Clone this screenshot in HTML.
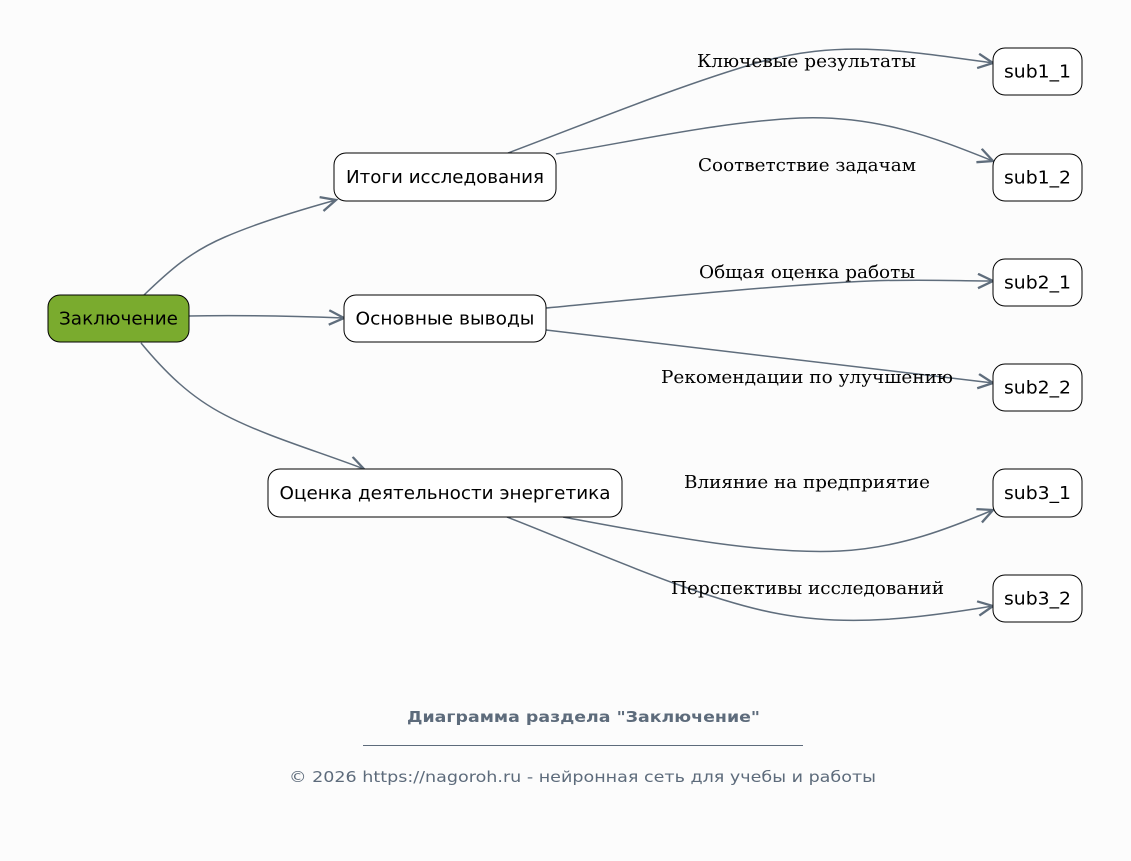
<!DOCTYPE html>
<html>
<head>
<meta charset="utf-8">
<style>
  html, body { margin: 0; padding: 0; background: #fcfcfc; }
  svg { display: block; }
  .node { fill: #ffffff; stroke: #000; stroke-width: 1; }
  .nt { font-family: "DejaVu Sans", "Liberation Sans", sans-serif; font-size: 18px; fill: #000; text-anchor: middle; }
  .lbl { font-family: "DejaVu Serif", "Liberation Serif", serif; font-size: 18px; fill: #000; text-anchor: middle; }
  .edge { fill: none; stroke: #5f6d7c; stroke-width: 1.5; }
</style>
</head>
<body>
<svg width="1131" height="861" viewBox="0 0 1131 861" xmlns="http://www.w3.org/2000/svg">
  <defs>
    <marker id="ah" markerUnits="userSpaceOnUse" markerWidth="20" markerHeight="18" refX="16" refY="8" orient="auto" viewBox="0 0 20 18">
      <path d="M1,0.8 L16,8 L1,15.2" fill="none" stroke="#5f6d7c" stroke-width="2.3" stroke-linejoin="miter"/>
    </marker>
  </defs>
  <rect width="1131" height="861" fill="#fcfcfc"/>

  <!-- edges -->
  <path class="edge" marker-end="url(#ah)" d="M144,295 C170,270 190,252 225,237 C255,224 300,210 336,200"/>
  <path class="edge" marker-end="url(#ah)" d="M189,316 C240,315 290,316 344,318"/>
  <path class="edge" marker-end="url(#ah)" d="M141,343 C165,372 190,397 225,415 C265,436 320,452 364,469"/>

  <path class="edge" marker-end="url(#ah)" d="M508,153 C580,126 680,85 760,62 C840,40 900,50 993,63"/>
  <path class="edge" marker-end="url(#ah)" d="M556,154 C640,140 720,122 800,118 C880,115 940,140 993,161"/>
  <path class="edge" marker-end="url(#ah)" d="M546,308 C650,298 780,285 870,281 C920,279 960,281 993,281"/>
  <path class="edge" marker-end="url(#ah)" d="M546,330 C700,347 850,365 993,383"/>
  <path class="edge" marker-end="url(#ah)" d="M563,517 C650,533 760,555 840,551 C900,548 950,528 993,510"/>
  <path class="edge" marker-end="url(#ah)" d="M507,517 C580,545 700,600 780,614 C850,627 920,618 993,606"/>

  <!-- nodes -->
  <rect x="48" y="295" width="141" height="47" rx="12" ry="12" fill="#7aab2e" stroke="#000" stroke-width="1"/>
  <text class="nt" x="118.5" y="324.5" textLength="119" lengthAdjust="spacingAndGlyphs">Заключение</text>

  <rect class="node" x="334" y="153" width="222" height="48" rx="12" ry="12"/>
  <text class="nt" x="445" y="183" textLength="198" lengthAdjust="spacingAndGlyphs">Итоги исследования</text>

  <rect class="node" x="344" y="295" width="202" height="47" rx="12" ry="12"/>
  <text class="nt" x="445" y="324.5" textLength="179" lengthAdjust="spacingAndGlyphs">Основные выводы</text>

  <rect class="node" x="268" y="469" width="354" height="48" rx="12" ry="12"/>
  <text class="nt" x="445" y="499" textLength="331" lengthAdjust="spacingAndGlyphs">Оценка деятельности энергетика</text>

  <rect class="node" x="993" y="48" width="89" height="47" rx="12" ry="12"/>
  <text class="nt" x="1037.5" y="77.5" textLength="67" lengthAdjust="spacingAndGlyphs">sub1_1</text>
  <rect class="node" x="993" y="154" width="89" height="47" rx="12" ry="12"/>
  <text class="nt" x="1037.5" y="183.5" textLength="67" lengthAdjust="spacingAndGlyphs">sub1_2</text>
  <rect class="node" x="993" y="259" width="89" height="47" rx="12" ry="12"/>
  <text class="nt" x="1037.5" y="288.5" textLength="67" lengthAdjust="spacingAndGlyphs">sub2_1</text>
  <rect class="node" x="993" y="364" width="89" height="47" rx="12" ry="12"/>
  <text class="nt" x="1037.5" y="393.5" textLength="67" lengthAdjust="spacingAndGlyphs">sub2_2</text>
  <rect class="node" x="993" y="469" width="89" height="48" rx="12" ry="12"/>
  <text class="nt" x="1037.5" y="499" textLength="67" lengthAdjust="spacingAndGlyphs">sub3_1</text>
  <rect class="node" x="993" y="575" width="89" height="47" rx="12" ry="12"/>
  <text class="nt" x="1037.5" y="604.5" textLength="67" lengthAdjust="spacingAndGlyphs">sub3_2</text>

  <!-- edge labels -->
  <text class="lbl" x="806.5" y="67" textLength="219" lengthAdjust="spacingAndGlyphs">Ключевые результаты</text>
  <text class="lbl" x="807" y="171" textLength="218" lengthAdjust="spacingAndGlyphs">Соответствие задачам</text>
  <text class="lbl" x="807" y="278" textLength="216" lengthAdjust="spacingAndGlyphs">Общая оценка работы</text>
  <text class="lbl" x="807" y="383" textLength="292" lengthAdjust="spacingAndGlyphs">Рекомендации по улучшению</text>
  <text class="lbl" x="807" y="488" textLength="246" lengthAdjust="spacingAndGlyphs">Влияние на предприятие</text>
  <text class="lbl" x="807.5" y="594" textLength="273" lengthAdjust="spacingAndGlyphs">Перспективы исследований</text>

  <!-- footer -->
  <text x="583.5" y="722" text-anchor="middle" font-family="'DejaVu Sans', 'Liberation Sans', sans-serif" font-size="15" font-weight="bold" fill="#5d6b7b" textLength="353" lengthAdjust="spacingAndGlyphs">Диаграмма раздела "Заключение"</text>
  <rect x="363" y="745" width="440" height="1" fill="#5d6b7b"/>
  <text x="582.5" y="782" text-anchor="middle" font-family="'DejaVu Sans', 'Liberation Sans', sans-serif" font-size="15" fill="#5d6b7b" textLength="587" lengthAdjust="spacingAndGlyphs">© 2026 https://nagoroh.ru - нейронная сеть для учебы и работы</text>
</svg>
</body>
</html>
